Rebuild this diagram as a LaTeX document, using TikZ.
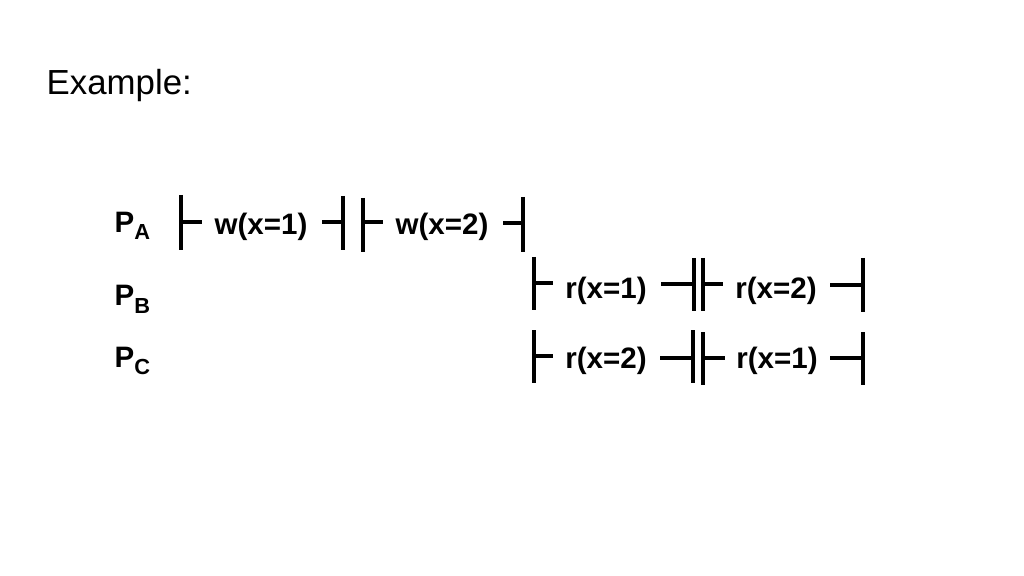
\documentclass[tikz,border=0pt]{standalone}
\usepackage{fontspec}
\setmainfont{Liberation Sans}
\newcommand{\procsub}[1]{\raisebox{-0.45ex}{\fontsize{6.2}{7}\selectfont #1}}

\begin{document}
\begin{tikzpicture}[
x=0.01cm, y=-0.01cm,
opnode/.style={font=\fontsize{8.4}{10}\selectfont\bfseries, inner sep=0pt, anchor=base},
procnode/.style={font=\fontsize{8.4}{10}\selectfont\bfseries, inner sep=0pt, anchor=base west},
bar/.style={line width=1.4pt},
]
\useasboundingbox (0,0) rectangle (1024,576);
%Title
\node[font=\fontsize{9.9}{12}\selectfont, inner sep=0pt, anchor=base west] (title) at (46,95) {Example:};
%Processes
\node[procnode] (PA) at (114,232) {P\procsub{A}};
\node[procnode] (PB) at (114,306) {P\procsub{B}};
\node[procnode] (PC) at (114,367) {P\procsub{C}};
%Operations
\node[opnode] (wA1) at (261,235) {w(x=1)};
\node[opnode] (wA2) at (442,235) {w(x=2)};
\node[opnode] (rB1) at (606,298) {r(x=1)};
\node[opnode] (rB2) at (776,298) {r(x=2)};
\node[opnode] (rC1) at (606,368) {r(x=2)};
\node[opnode] (rC2) at (777,368) {r(x=1)};
%Brackets
\draw[bar] (181,195) -- (181,250) (181,222) -- (202,222);
\draw[bar] (322,222) -- (343,222) (343,196) -- (343,250);
\draw[bar] (363,198) -- (363,252) (363,222) -- (383,222);
\draw[bar] (503,223) -- (523,223) (523,197) -- (523,252);
\draw[bar] (534,257) -- (534,310) (534,283) -- (553,283);
\draw[bar] (661,284) -- (694,284) (694,258) -- (694,311);
\draw[bar] (703,258) -- (703,311) (703,284) -- (723,284);
\draw[bar] (830,285) -- (863,285) (863,258) -- (863,312);
\draw[bar] (534,330) -- (534,383) (534,356) -- (553,356);
\draw[bar] (660,358) -- (693,358) (693,330) -- (693,383);
\draw[bar] (703,332) -- (703,385) (703,358) -- (725,358);
\draw[bar] (830,358) -- (863,358) (863,332) -- (863,385);
\end{tikzpicture}
\end{document}
